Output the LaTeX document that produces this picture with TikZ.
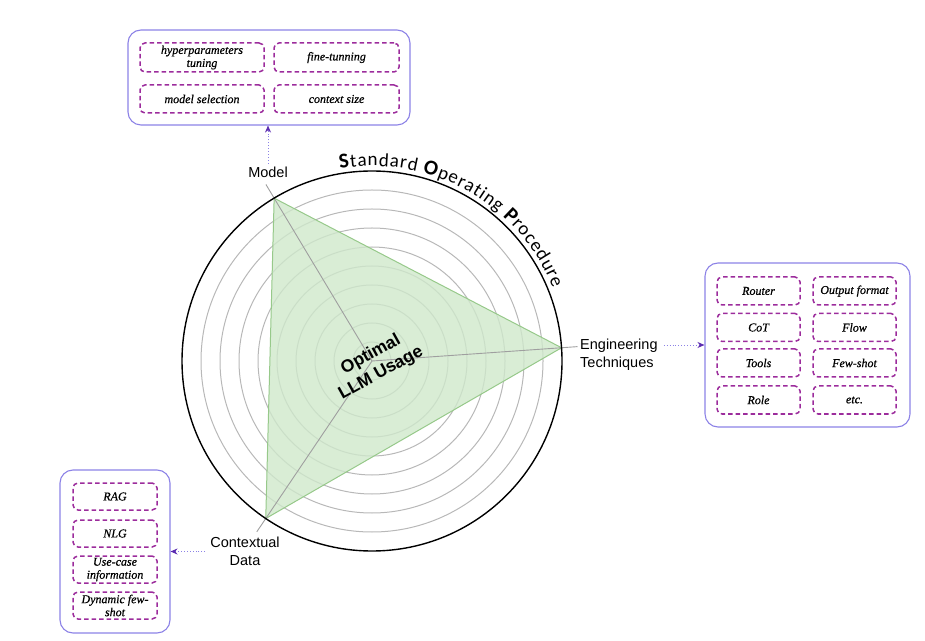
\documentclass[tikz,border=0pt]{standalone}
\usepackage{fontspec}
\setmainfont{Liberation Serif}
\newfontfamily\arialf{Liberation Sans}
\newfontfamily\carl{Carlito}
\newfontfamily\boxf[FakeBold=0.6]{Liberation Serif}
\usetikzlibrary{arrows.meta,decorations.text}
\definecolor{outerbox}{HTML}{8C82E6}
\definecolor{innerbox}{HTML}{9C2C9C}
\definecolor{arrowc}{HTML}{5B2BB0}
\definecolor{ring}{HTML}{B8B8B8}
\definecolor{trifill}{HTML}{CFE8CB}
\definecolor{triline}{HTML}{97C98A}
\newcommand\sopbig{\carl\bfseries\fontsize{21}{21}\selectfont}
\newcommand\sopsmall{\carl\fontsize{19}{19}\selectfont}
\begin{document}
\begin{tikzpicture}[x=1pt,y=1pt,
 outerbox/.style={draw=outerbox, line width=1.1pt, rounded corners=13pt, inner sep=0pt},
 itembox/.style={draw=innerbox, line width=1.5pt, dash pattern=on 4.5pt off 3pt, rounded corners=5pt, inner sep=1pt, align=center, font=\boxf\itshape\fontsize{12}{13}\selectfont},
 axislabel/.style={font=\arialf\fontsize{14.5}{18}\selectfont, inner sep=1pt},
 link/.style={draw=outerbox, line width=0.9pt, dotted, -{Stealth[length=7pt,width=6pt,color=arrowc]}},
 spoke/.style={draw=gray!75, line width=0.9pt}
]
\useasboundingbox (0,0) rectangle (925,640);
\coordinate (C) at (372,279);
\foreach \r in {19,38,...,171} \draw[ring, line width=1pt] (C) circle[radius=\r];
\coordinate (VM) at ([shift={(121:190)}]C);
\coordinate (VE) at ([shift={(4:190)}]C);
\coordinate (VC) at ([shift={(236:190)}]C);
\filldraw[fill=trifill, draw=triline, line width=1pt, fill opacity=0.8] (VM) -- (VE) -- (VC) -- cycle;
\coordinate (TM) at ([shift={(121:206)}]C);
\coordinate (TE) at ([shift={(4:206)}]C);
\coordinate (TC) at ([shift={(236:206)}]C);
\draw[spoke] (C) -- (TM);
\draw[spoke] (C) -- (TE);
\draw[spoke] (C) -- (TC);
\draw[black, line width=1.4pt] (C) circle[radius=190];
\path[decorate, decoration={text along path, text align={fit to path},
  text={|\sopbig|S|\sopsmall|tandard |\sopbig|O|\sopsmall|perating |\sopbig|P|\sopsmall|rocedure}}]
  ([shift={(99.5:195)}]C) arc[start angle=99.5, end angle=22, radius=195];

\node[font=\arialf\bfseries\fontsize{17.5}{21}\selectfont, rotate=29, align=center] (opt) at (376,276) {Optimal\\LLM Usage};

\node[axislabel] (model) at (268,468) {Model};
\node[axislabel, anchor=west, align=left] (eng) at (579,285.5) {Engineering\\Techniques};
\node[axislabel, align=center] (ctx) at (245,89) {Contextual\\Data};

% top box
\node[outerbox, minimum width=282pt, minimum height=95pt] (topbox) at (269,562.5) {};
\node[itembox, minimum width=124pt, minimum height=29pt] (hp) at (202,582.5) {hyperparameters\\tuning};
\node[itembox, minimum width=125pt, minimum height=29pt] (ft) at (336.5,582.5) {fine-tunning};
\node[itembox, minimum width=124pt, minimum height=28pt] (ms) at (202,541) {model selection};
\node[itembox, minimum width=125pt, minimum height=28pt] (cs) at (336.5,541) {context size};

% right box
\node[outerbox, minimum width=205pt, minimum height=164pt] (rbox) at (807.5,295) {};
\node[itembox, minimum width=83pt, minimum height=28pt] (router) at (758.5,349) {Router};
\node[itembox, minimum width=83pt, minimum height=28pt] (outfmt) at (854.5,349) {Output format};
\node[itembox, minimum width=83pt, minimum height=28pt] (cot) at (758.5,312.5) {CoT};
\node[itembox, minimum width=83pt, minimum height=28pt] (flow) at (854.5,312.5) {Flow};
\node[itembox, minimum width=83pt, minimum height=28pt] (tools) at (758.5,277) {Tools};
\node[itembox, minimum width=83pt, minimum height=28pt] (few) at (854.5,277) {Few-shot};
\node[itembox, minimum width=83pt, minimum height=28pt] (role) at (758.5,240) {Role};
\node[itembox, minimum width=83pt, minimum height=28pt] (etc) at (854.5,240) {etc.};

% left box
\node[outerbox, minimum width=110pt, minimum height=163pt] (lbox) at (115,88.5) {};
\node[itembox, minimum width=84pt, minimum height=27pt] (rag) at (115,143.5) {RAG};
\node[itembox, minimum width=84pt, minimum height=27pt] (nlg) at (115,106.5) {NLG};
\node[itembox, minimum width=84pt, minimum height=27pt] (usecase) at (115,70.5) {Use-case\\information};
\node[itembox, minimum width=84pt, minimum height=27pt] (dyn) at (115,34.5) {Dynamic few-\\shot};

% connectors
\draw[link] ([yshift=2pt]model.north) -- (model.north |- topbox.south);
\draw[link] ([xshift=5pt]eng.east |- rbox.west) -- (rbox.west);
\draw[link] ([xshift=-4pt]ctx.west |- lbox.east) -- (lbox.east);
\end{tikzpicture}
\end{document}
